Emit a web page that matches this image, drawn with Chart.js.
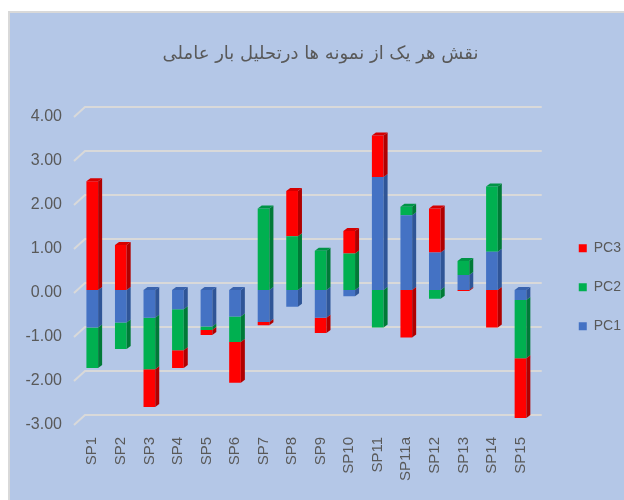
<!DOCTYPE html>
<html>
<head>
<meta charset="utf-8">
<script src="https://cdn.jsdelivr.net/npm/chart.js@4"></script>
<style>
  body { margin: 0; background: #fff; }
  #wrap {
    position: absolute; left: 8px; top: 11px;
    width: 614px; height: 487px;
    border-left: 2px solid #d9d9d9; border-top: 2px solid #d9d9d9;
    background: #b4c7e7;
  }
</style>
</head>
<body>
<div id="wrap"><canvas id="chart"></canvas></div>
<script>
const samples = ['SP1', 'SP2', 'SP3', 'SP4', 'SP5', 'SP6', 'SP7', 'SP8', 'SP9', 'SP10', 'SP11', 'SP11a', 'SP12', 'SP13', 'SP14', 'SP15'];
const pc1 = [-0.85, -0.74, -0.63, -0.44, -0.83, -0.60, -0.73, -0.38, -0.63, -0.14, 2.57, 1.70, 0.85, 0.34, 0.87, -0.23];
const pc2 = [-0.92, -0.60, -1.17, -0.93, -0.08, -0.58, 1.85, 1.22, 0.89, 0.83, -0.85, 0.19, -0.20, 0.32, 1.48, -1.32];
const pc3 = [2.47, 1.02, -0.86, -0.40, -0.11, -0.93, -0.07, 1.03, -0.35, 0.51, 0.94, -1.08, 1.00, -0.02, -0.85, -1.36];
const yMin = -3, yMax = 4;
const title = 'نقش هر یک از نمونه ها درتحلیل بار عاملی';

const frontColors = ['#4472c4', '#00b050', '#ff0000'];
const sideColors = ['#2f5597', '#007a37', '#b00000'];
const topColors = ['#3a63ad', '#009446', '#d60000'];
const textColor = '#595959';
const tickFont = "'Liberation Sans', sans-serif";

// back-wall gridlines and the 3D side/top faces of the bars
const depthPlugin = {
  id: 'depth3d',
  beforeDatasetsDraw(chart) {
    const { ctx, chartArea: a, scales: { y } } = chart;
    ctx.save();
    ctx.strokeStyle = '#d9d9d9';
    ctx.lineWidth = 2;
    y.ticks.forEach(t => {
      const py = y.getPixelForValue(t.value);
      ctx.beginPath();
      ctx.moveTo(a.left - 4, py + 3);
      ctx.lineTo(a.left + 7, py - 7);
      ctx.lineTo(a.right + 7, py - 7);
      ctx.stroke();
    });
    ctx.restore();
  },
  afterDatasetsDraw(chart) {
    const { ctx } = chart;
    const dx = 4, dy = 3;
    const tops = {};
    ctx.save();
    chart.data.datasets.forEach((ds, i) => {
      chart.getDatasetMeta(i).data.forEach((bar, j) => {
        const top = Math.min(bar.y, bar.base), bot = Math.max(bar.y, bar.base);
        if (bot - top < 0.5) return;
        if (!tops[j] || top < tops[j].top) tops[j] = { top, bar, i };
        const r = bar.x + bar.width / 2;
        ctx.fillStyle = sideColors[i];
        ctx.beginPath();
        ctx.moveTo(r, top);
        ctx.lineTo(r + dx, top - dy);
        ctx.lineTo(r + dx, bot - dy);
        ctx.lineTo(r, bot);
        ctx.closePath();
        ctx.fill();
      });
    });
    Object.values(tops).forEach(({ top, bar, i }) => {
      const l = bar.x - bar.width / 2, r = bar.x + bar.width / 2;
      ctx.fillStyle = topColors[i];
      ctx.beginPath();
      ctx.moveTo(l, top);
      ctx.lineTo(l + dx, top - dy);
      ctx.lineTo(r + dx, top - dy);
      ctx.lineTo(r, top);
      ctx.closePath();
      ctx.fill();
    });
    ctx.restore();
  }
};

new Chart(document.getElementById('chart'), {
  type: 'bar',
  data: {
    labels: samples,
    datasets: [
      { label: 'PC1', data: pc1, backgroundColor: frontColors[0] },
      { label: 'PC2', data: pc2, backgroundColor: frontColors[1] },
      { label: 'PC3', data: pc3, backgroundColor: frontColors[2] }
    ]
  },
  options: {
    responsive: true,
    maintainAspectRatio: false,
    animation: false,
    datasets: { bar: { categoryPercentage: 0.41, barPercentage: 1, borderWidth: 0 } },
    layout: { padding: { top: 0, right: -7, bottom: 0, left: 0 } },
    plugins: {
      title: {
        display: true,
        text: title,
        color: textColor,
        font: { family: "'DejaVu Sans', sans-serif", size: 18, weight: 'normal' },
        padding: { top: 31, bottom: 48.4 }
      },
      legend: {
        position: 'right',
        fullSize: false,
        reverse: true,
        title: { display: true, text: '', font: { size: 12 }, padding: { top: 12, bottom: 12 } },
        labels: {
          boxWidth: 8, boxHeight: 8, padding: 25,
          color: textColor,
          font: { family: tickFont, size: 14 }
        }
      },
      tooltip: { enabled: false }
    },
    scales: {
      x: {
        stacked: true,
        grid: { display: false, drawTicks: false },
        border: { display: false },
        ticks: {
          color: textColor, font: { family: tickFont, size: 15 },
          maxRotation: 90, minRotation: 90, autoSkip: false, padding: 15
        },
        afterFit(scale) { scale.height = 78; }
      },
      y: {
        stacked: true,
        min: yMin, max: yMax,
        grid: { display: false, drawTicks: false },
        border: { display: false },
        ticks: {
          stepSize: 1, padding: 16, labelOffset: 3,
          color: textColor, font: { family: tickFont, size: 16 },
          callback: v => v.toFixed(2)
        },
        afterFit(scale) { scale.width = 68; }
      },
      yRight: {
        type: 'linear',
        position: 'right',
        display: true,
        grid: { display: false, drawTicks: false },
        border: { display: false },
        ticks: { display: false },
        afterFit(scale) { scale.width = 19; }
      }
    }
  },
  plugins: [depthPlugin]
});
</script>
</body>
</html>
